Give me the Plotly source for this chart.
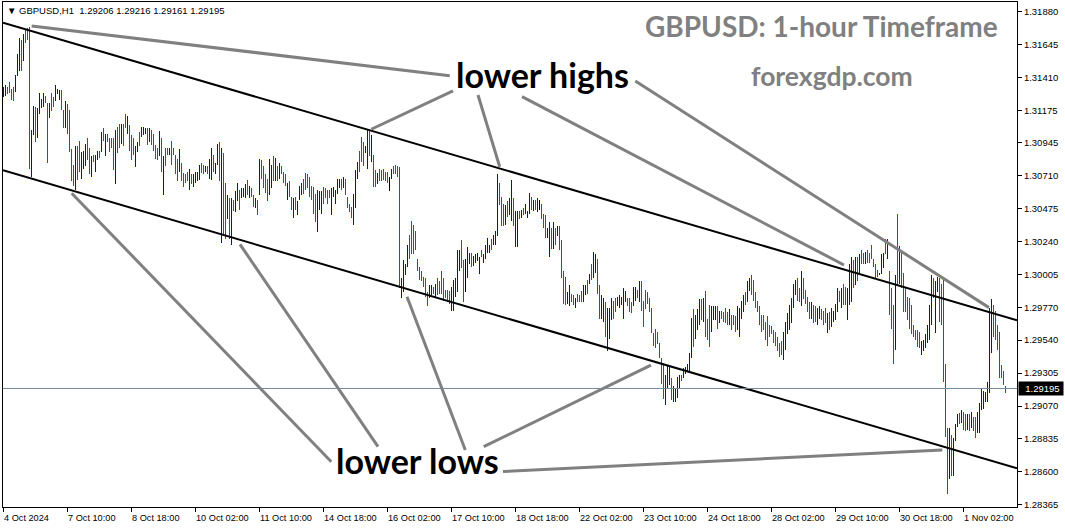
import plotly.graph_objects as go

# ---------------- data (GBPUSD H1, one value per bar) ----------------
HIGH = [
    1.3134, 1.3136, 1.3134, 1.3138, 1.3133, 1.3134, 1.3143, 1.3158, 1.3169, 1.3168,
    1.3172, 1.3175, 1.3176, 1.3177, 1.3104, 1.3121, 1.3120, 1.3119, 1.3130, 1.3126,
    1.3130, 1.3128, 1.3123, 1.3123, 1.3130, 1.3127, 1.3136, 1.3133, 1.3132, 1.3132,
    1.3118, 1.3124, 1.3122, 1.3118, 1.3090, 1.3079, 1.3092, 1.3092, 1.3096, 1.3088,
    1.3089, 1.3094, 1.3098, 1.3091, 1.3085, 1.3086, 1.3086, 1.3089, 1.3089, 1.3102,
    1.3105, 1.3101, 1.3101, 1.3098, 1.3098, 1.3098, 1.3104, 1.3106, 1.3108, 1.3108,
    1.3108, 1.3115, 1.3114, 1.3107, 1.3100, 1.3098, 1.3092, 1.3095, 1.3102, 1.3106,
    1.3106, 1.3105, 1.3105, 1.3105, 1.3104, 1.3101, 1.3093, 1.3091, 1.3103, 1.3098,
    1.3085, 1.3091, 1.3091, 1.3091, 1.3096, 1.3091, 1.3086, 1.3083, 1.3090, 1.3080,
    1.3073, 1.3072, 1.3074, 1.3076, 1.3072, 1.3072, 1.3074, 1.3074, 1.3079, 1.3080,
    1.3079, 1.3078, 1.3078, 1.3083, 1.3091, 1.3086, 1.3080, 1.3094, 1.3095, 1.3091,
    1.3087, 1.3066, 1.3057, 1.3055, 1.3055, 1.3054, 1.3060, 1.3066, 1.3061, 1.3062,
    1.3062, 1.3065, 1.3068, 1.3064, 1.3062, 1.3057, 1.3055, 1.3054, 1.3083, 1.3082,
    1.3078, 1.3072, 1.3069, 1.3083, 1.3079, 1.3085, 1.3084, 1.3078, 1.3080, 1.3078,
    1.3074, 1.3072, 1.3066, 1.3067, 1.3056, 1.3055, 1.3056, 1.3053, 1.3064, 1.3066,
    1.3069, 1.3073, 1.3072, 1.3070, 1.3064, 1.3063, 1.3058, 1.3061, 1.3060, 1.3060,
    1.3063, 1.3062, 1.3061, 1.3061, 1.3062, 1.3063, 1.3061, 1.3069, 1.3069, 1.3069,
    1.3070, 1.3069, 1.3056, 1.3051, 1.3049, 1.3058, 1.3075, 1.3081, 1.3089, 1.3099,
    1.3095, 1.3092, 1.3104, 1.3103, 1.3100, 1.3086, 1.3075, 1.3073, 1.3076, 1.3075,
    1.3076, 1.3074, 1.3074, 1.3070, 1.3076, 1.3078, 1.3079, 1.3078, 1.3077, 1.2998,
    1.3011, 1.3008, 1.3022, 1.3029, 1.3039, 1.3036, 1.3032, 1.3012, 1.3006, 1.3003,
    1.2999, 1.2998, 1.2988, 1.2993, 1.2993, 1.2992, 1.2994, 1.2998, 1.2996, 1.3003,
    1.2998, 1.2990, 1.2990, 1.2989, 1.2992, 1.2997, 1.2998, 1.3018, 1.3018, 1.3025,
    1.3011, 1.3012, 1.3020, 1.3016, 1.3016, 1.3014, 1.3015, 1.3016, 1.3013, 1.3018,
    1.3015, 1.3022, 1.3027, 1.3022, 1.3026, 1.3029, 1.3032, 1.3072, 1.3066, 1.3056,
    1.3051, 1.3050, 1.3053, 1.3055, 1.3068, 1.3055, 1.3046, 1.3046, 1.3046, 1.3047,
    1.3048, 1.3051, 1.3046, 1.3059, 1.3056, 1.3054, 1.3054, 1.3055, 1.3054, 1.3051,
    1.3044, 1.3043, 1.3034, 1.3038, 1.3034, 1.3038, 1.3034, 1.3035, 1.3035, 1.3025,
    1.3003, 1.2999, 1.2988, 1.2993, 1.2987, 1.2986, 1.2984, 1.2987, 1.2986, 1.2989,
    1.2993, 1.2993, 1.2997, 1.3001, 1.3008, 1.3017, 1.3015, 1.3012, 1.2993, 1.2986,
    1.2984, 1.2981, 1.2977, 1.2977, 1.2984, 1.2982, 1.2984, 1.2985, 1.2986, 1.2985,
    1.2991, 1.2989, 1.2984, 1.2984, 1.2981, 1.2992, 1.2992, 1.2990, 1.2996, 1.2996,
    1.2982, 1.2990, 1.2988, 1.2984, 1.2977, 1.2959, 1.2962, 1.2960, 1.2952, 1.2941,
    1.2937, 1.2929, 1.2936, 1.2935, 1.2927, 1.2921, 1.2920, 1.2928, 1.2929, 1.2929,
    1.2934, 1.2935, 1.2937, 1.2945, 1.2970, 1.2976, 1.2972, 1.2976, 1.2983, 1.2983,
    1.2984, 1.2989, 1.2969, 1.2979, 1.2978, 1.2978, 1.2978, 1.2978, 1.2975, 1.2975,
    1.2974, 1.2977, 1.2974, 1.2976, 1.2972, 1.2972, 1.2971, 1.2978, 1.2977, 1.2982,
    1.2986, 1.2988, 1.2996, 1.2998, 1.3000, 1.2997, 1.2988, 1.2982, 1.2978, 1.2972,
    1.2972, 1.2967, 1.2971, 1.2965, 1.2964, 1.2961, 1.2960, 1.2956, 1.2952, 1.2953,
    1.2960, 1.2967, 1.2973, 1.2979, 1.2984, 1.2994, 1.2997, 1.2998, 1.2991, 1.3003,
    1.2998, 1.2990, 1.2985, 1.2981, 1.2981, 1.2979, 1.2978, 1.2977, 1.2978, 1.2976,
    1.2975, 1.2977, 1.2973, 1.2974, 1.2977, 1.2975, 1.2980, 1.2991, 1.2989, 1.2991,
    1.2994, 1.2992, 1.2991, 1.3008, 1.3013, 1.3011, 1.3013, 1.3013, 1.3015, 1.3018,
    1.3016, 1.3017, 1.3018, 1.3016, 1.3022, 1.3012, 1.3008, 1.3004, 1.3002, 1.3015,
    1.3016, 1.3026, 1.3026, 1.3003, 1.2991, 1.2979, 1.3000, 1.3044, 1.3021, 1.3016,
    1.3002, 1.2991, 1.2985, 1.2984, 1.2979, 1.2965, 1.2961, 1.2961, 1.2960, 1.2953,
    1.2954, 1.2958, 1.2965, 1.2979, 1.3000, 1.2998, 1.2996, 1.2999, 1.2998, 1.2994,
    1.2998, 1.2937, 1.2891, 1.2891, 1.2886, 1.2884, 1.2894, 1.2901, 1.2902, 1.2904,
    1.2903, 1.2901, 1.2901, 1.2901, 1.2903, 1.2899, 1.2899, 1.2903, 1.2909, 1.2919,
    1.2918, 1.2917, 1.2924, 1.2977, 1.2983, 1.2979, 1.2975, 1.2965, 1.2960, 1.2936,
    1.2932, 1.29216,
]

LOW = [
    1.3127, 1.3128, 1.3129, 1.3130, 1.3125, 1.3124, 1.3131, 1.3142, 1.3146, 1.3146,
    1.3153, 1.3166, 1.3168, 1.3076, 1.3070, 1.3100, 1.3095, 1.3098, 1.3115, 1.3119,
    1.3120, 1.3123, 1.3080, 1.3112, 1.3117, 1.3120, 1.3124, 1.3129, 1.3125, 1.3118,
    1.3105, 1.3105, 1.3101, 1.3088, 1.3067, 1.3064, 1.3061, 1.3068, 1.3074, 1.3069,
    1.3076, 1.3078, 1.3082, 1.3072, 1.3070, 1.3081, 1.3074, 1.3082, 1.3084, 1.3088,
    1.3096, 1.3085, 1.3095, 1.3088, 1.3091, 1.3075, 1.3065, 1.3087, 1.3091, 1.3094,
    1.3092, 1.3105, 1.3101, 1.3089, 1.3082, 1.3086, 1.3077, 1.3088, 1.3092, 1.3099,
    1.3100, 1.3101, 1.3093, 1.3095, 1.3093, 1.3089, 1.3083, 1.3082, 1.3085, 1.3074,
    1.3057, 1.3078, 1.3086, 1.3086, 1.3079, 1.3086, 1.3072, 1.3067, 1.3074, 1.3067,
    1.3063, 1.3066, 1.3067, 1.3061, 1.3065, 1.3063, 1.3066, 1.3067, 1.3068, 1.3073,
    1.3072, 1.3074, 1.3072, 1.3069, 1.3068, 1.3074, 1.3072, 1.3079, 1.3067, 1.3023,
    1.3029, 1.3026, 1.3040, 1.3026, 1.3022, 1.3046, 1.3045, 1.3053, 1.3047, 1.3055,
    1.3056, 1.3055, 1.3057, 1.3055, 1.3056, 1.3049, 1.3048, 1.3043, 1.3057, 1.3069,
    1.3062, 1.3059, 1.3053, 1.3057, 1.3062, 1.3067, 1.3067, 1.3067, 1.3069, 1.3072,
    1.3066, 1.3064, 1.3054, 1.3056, 1.3047, 1.3041, 1.3047, 1.3043, 1.3054, 1.3057,
    1.3058, 1.3061, 1.3062, 1.3056, 1.3054, 1.3044, 1.3038, 1.3031, 1.3047, 1.3044,
    1.3051, 1.3055, 1.3051, 1.3055, 1.3043, 1.3056, 1.3051, 1.3058, 1.3062, 1.3061,
    1.3062, 1.3057, 1.3048, 1.3045, 1.3041, 1.3036, 1.3048, 1.3069, 1.3074, 1.3081,
    1.3078, 1.3087, 1.3076, 1.3085, 1.3081, 1.3063, 1.3063, 1.3065, 1.3067, 1.3067,
    1.3068, 1.3067, 1.3066, 1.3060, 1.3069, 1.3072, 1.3072, 1.3070, 1.2991, 1.2984,
    1.2988, 1.3000, 1.3006, 1.3012, 1.3015, 1.3015, 1.3018, 1.3003, 1.2997, 1.2996,
    1.2992, 1.2985, 1.2978, 1.2984, 1.2986, 1.2987, 1.2984, 1.2986, 1.2987, 1.2987,
    1.2982, 1.2984, 1.2981, 1.2980, 1.2975, 1.2975, 1.2985, 1.2988, 1.3003, 1.3005,
    1.2981, 1.2988, 1.2998, 1.3008, 1.3006, 1.3007, 1.3009, 1.3010, 1.3001, 1.3013,
    1.3009, 1.3012, 1.3016, 1.3016, 1.3018, 1.3022, 1.3022, 1.3028, 1.3050, 1.3035,
    1.3035, 1.3036, 1.3042, 1.3043, 1.3039, 1.3035, 1.3020, 1.3020, 1.3040, 1.3041,
    1.3043, 1.3044, 1.3041, 1.3044, 1.3047, 1.3046, 1.3047, 1.3045, 1.3047, 1.3040,
    1.3034, 1.3027, 1.3027, 1.3013, 1.3019, 1.3019, 1.3022, 1.3028, 1.3018, 1.2998,
    1.2980, 1.2979, 1.2980, 1.2978, 1.2981, 1.2979, 1.2977, 1.2981, 1.2981, 1.2981,
    1.2981, 1.2986, 1.2987, 1.2994, 1.2997, 1.2998, 1.3002, 1.2987, 1.2969, 1.2969,
    1.2967, 1.2956, 1.2946, 1.2955, 1.2968, 1.2969, 1.2974, 1.2978, 1.2977, 1.2979,
    1.2969, 1.2981, 1.2978, 1.2974, 1.2973, 1.2978, 1.2982, 1.2984, 1.2981, 1.2975,
    1.2963, 1.2976, 1.2980, 1.2974, 1.2959, 1.2950, 1.2948, 1.2951, 1.2941, 1.2923,
    1.2912, 1.2908, 1.2920, 1.2922, 1.2911, 1.2910, 1.2910, 1.2913, 1.2920, 1.2925,
    1.2927, 1.2930, 1.2931, 1.2931, 1.2941, 1.2949, 1.2955, 1.2961, 1.2965, 1.2968,
    1.2967, 1.2956, 1.2954, 1.2949, 1.2960, 1.2968, 1.2968, 1.2962, 1.2966, 1.2969,
    1.2967, 1.2966, 1.2965, 1.2965, 1.2961, 1.2965, 1.2960, 1.2961, 1.2956, 1.2969,
    1.2974, 1.2979, 1.2981, 1.2989, 1.2986, 1.2982, 1.2977, 1.2974, 1.2965, 1.2960,
    1.2961, 1.2954, 1.2950, 1.2956, 1.2958, 1.2952, 1.2950, 1.2946, 1.2942, 1.2943,
    1.2940, 1.2947, 1.2958, 1.2961, 1.2966, 1.2977, 1.2986, 1.2982, 1.2981, 1.2978,
    1.2983, 1.2980, 1.2974, 1.2969, 1.2969, 1.2966, 1.2967, 1.2965, 1.2969, 1.2968,
    1.2965, 1.2966, 1.2959, 1.2961, 1.2963, 1.2967, 1.2968, 1.2974, 1.2981, 1.2977,
    1.2979, 1.2979, 1.2968, 1.2979, 1.2981, 1.2991, 1.2993, 1.2996, 1.3001, 1.3008,
    1.3008, 1.3008, 1.3009, 1.3009, 1.3012, 1.3006, 1.2998, 1.2999, 1.3000, 1.3001,
    1.3005, 1.3015, 1.3012, 1.2972, 1.2962, 1.2937, 1.2947, 1.2993, 1.2994, 1.2991,
    1.2974, 1.2974, 1.2968, 1.2962, 1.2958, 1.2956, 1.2954, 1.2949, 1.2948, 1.2943,
    1.2946, 1.2948, 1.2952, 1.2954, 1.2965, 1.2984, 1.2959, 1.2988, 1.2967, 1.2965,
    1.2924, 1.2885, 1.2844, 1.2855, 1.2857, 1.2857, 1.2882, 1.2892, 1.2894, 1.2895,
    1.2890, 1.2889, 1.2890, 1.2889, 1.2891, 1.2889, 1.2884, 1.2888, 1.2888, 1.2904,
    1.2905, 1.2910, 1.2910, 1.2916, 1.2945, 1.2956, 1.2954, 1.2947, 1.2927, 1.2927,
    1.2922, 1.29161,
]

# u = bullish bar (blue), d = bearish bar (red), n = unchanged (black)
DIR = (
    "uudddduuud uddduuduuu uddudduuud dudddduddu uudduduudu "
    "dudddduddu dduddduudu uududdddud udduddddud ddduduuuud "
    "duduuduudu ddududuudu uududdudud ddduududud ddudduduuu "
    "ddddddduuu dddduuuuud udddduuudd duududdudd dddnuddddu "
    "uuuddddddd ddduududdd dddduuuuud dnuuduuuud uuuuduuudd "
    "duduuduudu duuududund dduudududd dduudduddd uududuuddu "
    "uduuudduuu uuddduudud dddddddddd duuuduuuud uuuuuduuud "
    "uddduuudud ddduddduuu uduudddddd dddddddddd uuuuuuuddu "
    "ddddudduud dduduuuudu dduuududud duddddddu u ududddudud "
    "dddddddddu uuuuuduudd ddduduuudu ddududduuu uuuuuddddd dd"
).replace(" ", "")

X_TICK_BARS = [0, 32, 64, 96, 128, 160, 192, 224, 256, 288, 320, 352, 384, 416, 448, 480]
X_TICK_TEXT = ["4 Oct 2024", "7 Oct 10:00", "8 Oct 18:00", "10 Oct 02:00", "11 Oct 10:00",
               "14 Oct 18:00", "16 Oct 02:00", "17 Oct 10:00", "18 Oct 18:00", "22 Oct 02:00",
               "23 Oct 10:00", "24 Oct 18:00", "28 Oct 02:00", "29 Oct 10:00", "30 Oct 18:00",
               "1 Nov 02:00"]
Y_TICKS = [1.31880, 1.31645, 1.31410, 1.31175, 1.30945, 1.30710, 1.30475, 1.30240,
           1.30005, 1.29770, 1.29540, 1.29305, 1.29070, 1.28835, 1.28600, 1.28365]

LAST_OHLC = [1.29206, 1.29216, 1.29161, 1.29195]
SYMBOL = "GBPUSD,H1"

# trend objects drawn on the chart: (bar index, price) end points
CHANNEL = [((-0.25, 1.31802), (506.75, 1.29681)),
           ((-0.25, 1.30750), (506.75, 1.28627))]
HIGH_POINTERS = [((223.1, 1.31424), (14.1, 1.31778)),
                 ((224.75, 1.31315), (183.9, 1.31042)),
                 ((237.25, 1.31286), (248.1, 1.30775)),
                 ((259.25, 1.31274), (420.25, 1.30075)),
                 ((315.9, 1.31386), (492.75, 1.29771))]
LOW_POINTERS = [((163.9, 1.28673), (34.1, 1.30586)),
                ((187.25, 1.28780), (118.25, 1.30222)),
                ((230.9, 1.28757), (201.75, 1.29849)),
                ((240.1, 1.28780), (323.75, 1.29362)),
                ((249.75, 1.28603), (469.4, 1.28757))]

assert len(HIGH) == len(LOW) == len(DIR), (len(HIGH), len(LOW), len(DIR))

# ---------------- figure ----------------
Y_MIN, Y_MAX = 1.283504, 1.319487
COLORS = {"u": "#0000FF", "d": "#FF0000", "n": "#000000"}
FONT_AX = "Liberation Sans, Arial, sans-serif"
FONT_BIG = "Lato, Open Sans, sans-serif"

idx = list(range(len(HIGH)))
fig = go.Figure(go.Bar(
    x=idx,
    y=[h - l for h, l in zip(HIGH, LOW)],
    base=LOW,
    width=0.5,
    marker=dict(color=[COLORS[c] for c in DIR], line=dict(width=0)),
    hoverinfo="skip",
))

shapes = []
for (x0, y0), (x1, y1) in CHANNEL:
    shapes.append(dict(type="line", xref="x", yref="y", x0=x0, y0=y0, x1=x1, y1=y1,
                       line=dict(color="black", width=2)))
for (x0, y0), (x1, y1) in HIGH_POINTERS + LOW_POINTERS:
    shapes.append(dict(type="line", xref="x", yref="y", x0=x0, y0=y0, x1=x1, y1=y1,
                       line=dict(color="#808080", width=3)))
# bid line
shapes.append(dict(type="line", xref="paper", yref="y", x0=0, x1=1,
                   y0=LAST_OHLC[3], y1=LAST_OHLC[3],
                   line=dict(color="#778899", width=1)))

annotations = []
for b, t in zip(X_TICK_BARS, X_TICK_TEXT):
    annotations.append(dict(x=b, xref="x", y=-0.0208, yref="paper", text=t,
                            xanchor="left", yanchor="middle", xshift=-2, showarrow=False,
                            font=dict(family=FONT_AX, size=9.2, color="black")))
annotations += [
    dict(x=1, xref="paper", y=LAST_OHLC[3], yref="y", xanchor="left", yanchor="middle",
         xshift=1, text="&nbsp;&nbsp;%.5f&nbsp;" % LAST_OHLC[3], showarrow=False,
         bgcolor="black", borderpad=1, font=dict(family=FONT_AX, size=9.5, color="white")),
    dict(x=0, xref="paper", y=0.9822, yref="paper", xanchor="left", yanchor="middle",
         xshift=2, showarrow=False,
         text="▼&nbsp;" + SYMBOL + "&nbsp;&nbsp;" + "&nbsp;".join("%.5f" % v for v in LAST_OHLC),
         font=dict(family=FONT_AX, size=9.5, color="black")),
    dict(x=0.8072, xref="paper", y=0.9527, yref="paper", text="<b>GBPUSD: 1-hour Timeframe</b>",
         xanchor="center", yanchor="middle",
         showarrow=False, font=dict(family=FONT_BIG, size=28, color="#808080")),
    dict(x=0.8171, xref="paper", y=0.8543, yref="paper", text="<b>forexgdp.com</b>",
         xanchor="center", yanchor="middle",
         showarrow=False, font=dict(family=FONT_BIG, size=26.5, color="#808080")),
    dict(x=0.5320, xref="paper", y=0.8556, yref="paper", text="<b>lower highs</b>",
         xanchor="center", yanchor="middle",
         showarrow=False, font=dict(family=FONT_BIG, size=34, color="black")),
    dict(x=0.4085, xref="paper", y=0.0921, yref="paper", text="<b>lower lows</b>",
         xanchor="center", yanchor="middle",
         showarrow=False, font=dict(family=FONT_BIG, size=34, color="black")),
]

fig.update_layout(
    width=1065, height=528,
    margin=dict(l=3, r=48, t=2, b=21, pad=0),
    paper_bgcolor="white", plot_bgcolor="white",
    showlegend=False, bargap=0,
    xaxis=dict(range=[-0.25, 506.75], showgrid=False, zeroline=False,
               showline=True, linecolor="black", linewidth=1, mirror=True,
               ticks="outside", ticklen=4, tickcolor="black", tickwidth=1,
               tickvals=X_TICK_BARS, showticklabels=False, fixedrange=True),
    yaxis=dict(range=[Y_MIN, Y_MAX], side="right", showgrid=False, zeroline=False,
               showline=True, linecolor="black", linewidth=1, mirror=True,
               ticks="outside", ticklen=4, tickcolor="black", tickwidth=1,
               tickvals=Y_TICKS, ticktext=["%.5f" % v for v in Y_TICKS],
               tickfont=dict(family=FONT_AX, size=9.5, color="black"), fixedrange=True),
    shapes=shapes,
    annotations=annotations,
)

fig.write_html("out.html", config={"displayModeBar": False},
               post_script="document.body.style.margin='0';document.body.style.overflow='hidden';")
